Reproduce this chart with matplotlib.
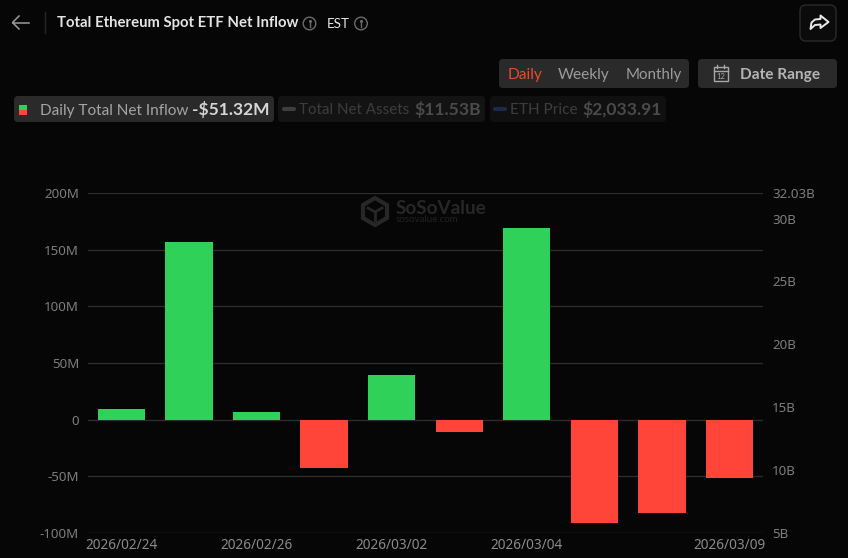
import matplotlib
matplotlib.use("Agg")
import matplotlib.pyplot as plt
from matplotlib.patches import FancyBboxPatch, Rectangle, Circle, Polygon

dates = ["2026/02/24", "2026/02/25", "2026/02/26", "2026/02/27", "2026/03/02",
         "2026/03/03", "2026/03/04", "2026/03/05", "2026/03/06", "2026/03/09"]
net_inflow = [9.5, 157, 6.5, -43, 39, -10.5, 169.5, -91, -82.5, -51.32]
left_ticks = [-100, -50, 0, 50, 100, 150, 200]
left_labels = ["-100M", "-50M", "0", "50M", "100M", "150M", "200M"]
right_ticks = [5, 10, 15, 20, 25, 30, 32.03]
right_labels = ["5B", "10B", "15B", "20B", "25B", "30B", "32.03B"]
shown_dates = [0, 2, 4, 6, 9]

BG = "#060606"
GREEN = "#30D158"
RED = "#FF453A"
UI = ["Lato", "DejaVu Sans"]
AX = ["Noto Sans", "DejaVu Sans"]

W, H = 848, 558
fig = plt.figure(figsize=(W / 100, H / 100), dpi=100, facecolor=BG)

# chart
ax = fig.add_axes([87.7 / W, 1 - 533 / H, (763.2 - 87.7) / W, (533 - 193) / H], facecolor="none")
ax.set_xlim(-0.5, len(dates) - 0.5)
ax.set_ylim(-100, 200)
for v in left_ticks:
    ax.axhline(v, color="#2c2c2c", lw=1, zorder=1)
xs = range(len(dates))
colors = [GREEN if v >= 0 else RED for v in net_inflow]
ax.bar(xs, net_inflow, width=0.70, color=colors, zorder=3)
for s in ax.spines.values():
    s.set_visible(False)
ax.set_yticks(left_ticks, left_labels, family=AX, fontsize=9.6, color="#7d7d7d")
ax.tick_params(axis="y", length=0, pad=6.3)
ax.set_xticks([])
for i in shown_dates:
    ax.annotate(dates[i], (i, -100), xytext=(0, -9.2), textcoords="offset points",
                ha="center", va="center", family=AX, fontsize=9.8, color="#8a8a8a")

ax2 = ax.twinx()
ax2.set_ylim(5, 32.03)
ax2.set_yticks(right_ticks, right_labels, family=AX, fontsize=9.6, color="#7d7d7d")
ax2.tick_params(axis="y", length=0, pad=6.3)
for s in ax2.spines.values():
    s.set_visible(False)

# interface chrome in pixel coordinates
ui = fig.add_axes([0, 0, 1, 1], facecolor="none")
ui.set_xlim(0, W)
ui.set_ylim(H, 0)
ui.axis("off")


def box(x0, y0, x1, y1, fc, ec="none", r=4):
    ui.add_patch(FancyBboxPatch((x0 + r, y0 + r), x1 - x0 - 2 * r, y1 - y0 - 2 * r,
                                boxstyle=f"round,pad={r},rounding_size={r}",
                                fc=fc, ec=ec, lw=1, zorder=1))


def t(x, y, s, color, size, weight="normal", ha="left", fam=UI, z=5):
    ui.text(x, y, s, color=color, fontsize=size, fontweight=weight, ha=ha, va="center",
            family=fam, zorder=z)


def info(x, y, color="#6c6c6c"):
    ui.add_patch(Circle((x, y), 6.3, fc="none", ec=color, lw=1, zorder=5))
    ui.plot([x, x], [y - 1, y + 3.5], color=color, lw=1, zorder=5)
    ui.plot([x], [y - 3], marker="o", ms=1.2, color=color, zorder=5)


# header
ui.plot([29, 12.5], [22.5, 22.5], color="#9a9a9a", lw=1.1, zorder=5)
ui.plot([19, 12.5, 19], [16, 22.5, 29], color="#9a9a9a", lw=1.1, zorder=5)
ui.plot([44.5, 44.5], [12, 33], color="#262626", lw=1)
t(57, 23.5, "Total Ethereum Spot ETF Net Inflow", "#e4e4e4", 10.7, "bold")
info(309.5, 23.5)
t(327, 23.5, "EST", "#e8e8e8", 9.6)
info(361, 23.5)

# share button
box(800, 5, 836, 41, "#0b0b0b", "#2a2a2a", r=6)
ui.add_patch(Polygon([[820.5, 15.5], [828.5, 22], [820.5, 28], [820.5, 24.5], [815, 25], [810.5, 29],
                      [811.5, 22.5], [815, 19.5], [820.5, 19]],
                     closed=True, fc="none", ec="#e8e8e8", lw=1.4, joinstyle="round", zorder=5))

# period selector
box(499, 59, 689, 88, "#2a2a2a")
t(507.5, 74.5, "Daily", "#E8492F", 11.2)
t(558, 74.5, "Weekly", "#9b9b9b", 11.2)
t(625.5, 74.5, "Monthly", "#9b9b9b", 10.9)
box(698, 59, 837, 88, "#2a2a2a")
ui.add_patch(Rectangle((713.5, 66.5), 14, 14.5, fc="none", ec="#a8a8a8", lw=1, zorder=5))
ui.plot([713.5, 727.5], [70.5, 70.5], color="#a8a8a8", lw=1, zorder=5)
for px in (717, 724):
    ui.plot([px, px], [64.5, 68], color="#a8a8a8", lw=1, zorder=5)
t(720.5, 76.3, "12", "#a8a8a8", 5.5, ha="center")
t(740, 74.5, "Date Range", "#b4b4b4", 11.1, "bold")

# legend
box(14, 96, 274, 122, "#2a2a2a")
ui.add_patch(Rectangle((19, 105), 8, 5, fc=GREEN, zorder=5))
ui.add_patch(Rectangle((19, 110), 8, 4.5, fc=RED, zorder=5))
t(39.5, 110.5, "Daily Total Net Inflow", "#a4a4a4", 11.05)
t(192, 110, "-$51.32M", "#d6d6d6", 12.5, "bold")

box(278, 96, 485, 122, "#131313")
ui.plot([283.5, 293.5], [109, 109], color="#3e3e3e", lw=3, solid_capstyle="round", zorder=5)
t(299, 110.5, "Total Net Assets", "#3d3d3d", 10.9)
t(414, 110, "$11.53B", "#4a4a4a", 12.6, "bold")

box(490, 96, 666, 122, "#101010")
ui.plot([495, 505], [109, 109], color="#1c2a4d", lw=3, solid_capstyle="round", zorder=5)
t(510, 110.5, "ETH Price", "#3d3d3d", 11.1)
t(582, 110, "$2,033.91", "#4a4a4a", 12.6, "bold")

# watermark
ui.add_patch(Polygon([[375, 198], [387, 205], [387, 218], [375, 225], [363, 218], [363, 205]],
                     closed=True, fc="none", ec="#272727", lw=3, zorder=2))
ui.plot([368, 375, 382], [208, 212, 208], color="#272727", lw=2, zorder=2)
ui.plot([375, 375], [212, 220], color="#272727", lw=2, zorder=2)
t(396, 208, "SoSoValue", "#272727", 13.6, "bold", z=2)
t(396, 219.5, "sosovalue.com", "#222222", 7, z=2)

fig.savefig("out.png", dpi=100, facecolor=BG)
